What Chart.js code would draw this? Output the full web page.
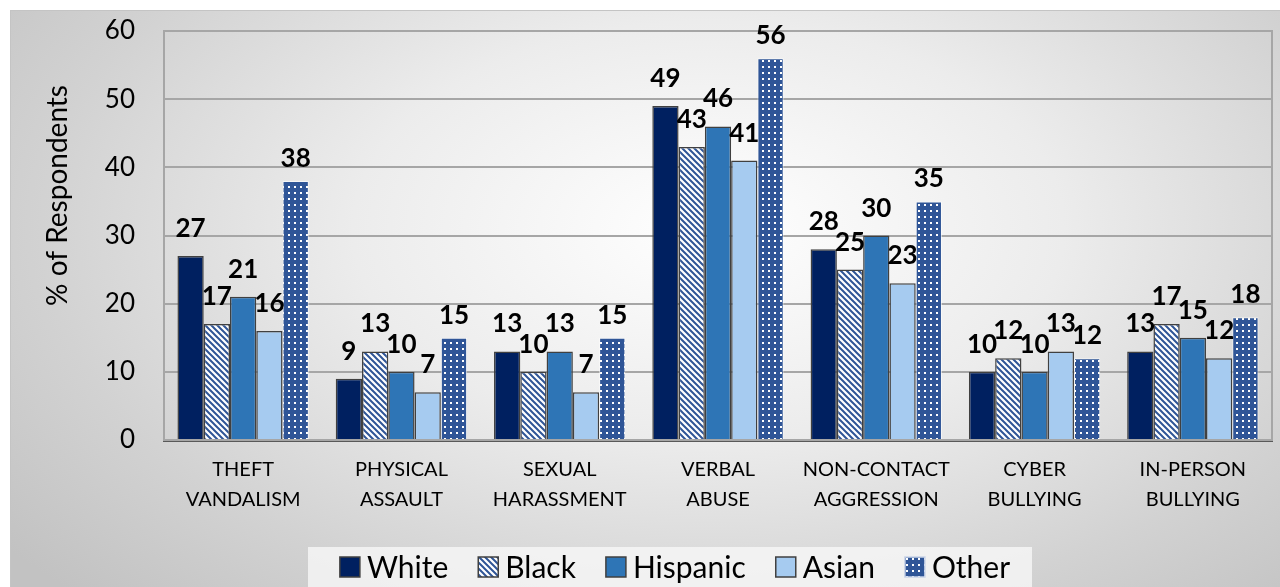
<!DOCTYPE html>
<html>
<head>
<meta charset="utf-8">
<script src="https://cdn.jsdelivr.net/npm/chart.js@4/dist/chart.umd.min.js"></script>
<style>
  html, body { margin: 0; padding: 0; background: #fff; }
  #wrap {
    position: absolute; left: 10px; top: 10px; width: 1270px; height: 577px;
    background: radial-gradient(ellipse 70% 90% at 55% 38%, #ffffff 0%, #ececec 40%, #d2d2d2 75%, #c2c2c2 100%);
    box-shadow: inset 1px 1px 0 #c4c4c4;
  }
  canvas { display: block; }
</style>
</head>
<body>
<div id="wrap"><canvas id="crimeChart" width="1270" height="577"></canvas></div>
<script>
const categories = [
  ['THEFT', 'VANDALISM'],
  ['PHYSICAL', 'ASSAULT'],
  ['SEXUAL', 'HARASSMENT'],
  ['VERBAL', 'ABUSE'],
  ['NON-CONTACT', 'AGGRESSION'],
  ['CYBER', 'BULLYING'],
  ['IN-PERSON', 'BULLYING']
];
const seriesNames = ['White', 'Black', 'Hispanic', 'Asian', 'Other'];
const white    = [27, 9, 13, 49, 28, 10, 13];
const black    = [17, 13, 10, 43, 25, 12, 17];
const hispanic = [21, 10, 13, 46, 30, 10, 15];
const asian    = [16, 7, 7, 41, 23, 13, 12];
const other    = [38, 15, 15, 56, 35, 12, 18];
const yTicks   = [0, 10, 20, 30, 40, 50, 60];

const ctx = document.getElementById('crimeChart').getContext('2d');

// fill patterns like the office chart
function hatchPattern() {
  const c = document.createElement('canvas');
  c.width = 6; c.height = 6;
  const g = c.getContext('2d');
  g.fillStyle = '#ffffff';
  g.fillRect(0, 0, 6, 6);
  g.strokeStyle = '#2f5597';
  g.lineWidth = 2;
  g.beginPath();
  g.moveTo(-1, -1); g.lineTo(7, 7);
  g.moveTo(-4, 2); g.lineTo(4, 10);
  g.moveTo(2, -4); g.lineTo(10, 4);
  g.stroke();
  return ctx.createPattern(c, 'repeat');
}
function dotPattern() {
  const c = document.createElement('canvas');
  c.width = 6; c.height = 6;
  const g = c.getContext('2d');
  g.fillStyle = '#2f5597';
  g.fillRect(0, 0, 6, 6);
  g.fillStyle = '#ffffff';
  g.fillRect(2, 2, 2, 2);
  return ctx.createPattern(c, 'repeat');
}

Chart.defaults.font.family = 'Lato';
Chart.defaults.color = '#000';

// frame around the plot area
const plotFrame = {
  id: 'plotFrame',
  beforeDatasetsDraw(chart) {
    const a = chart.chartArea, c = chart.ctx;
    c.save();
    c.strokeStyle = '#a6a6a6';
    c.lineWidth = 2;
    c.strokeRect(a.left, a.top, a.right - a.left, a.bottom - a.top);
    c.restore();
  }
};

// the axis title sits a bit above the middle in the original
const titleShift = {
  id: 'titleShift',
  afterLayout(chart) {
    const s = chart.scales.y;
    if (s._shifted) return;
    const orig = s.drawTitle.bind(s);
    s.drawTitle = function () {
      this.ctx.save();
      this.ctx.translate(0, -40);
      orig();
      this.ctx.restore();
    };
    s._shifted = true;
  }
};

// value labels above bars
const barLabels = {
  id: 'barLabels',
  afterDatasetsDraw(chart) {
    const c = chart.ctx;
    c.save();
    c.font = 'bold 26px Lato';
    c.fillStyle = '#000';
    c.textAlign = 'center';
    c.textBaseline = 'alphabetic';
    chart.data.datasets.forEach((ds, i) => {
      const meta = chart.getDatasetMeta(i);
      const off = i === 4 ? 14 : 19;
      meta.data.forEach((bar, j) => {
        c.fillText(String(ds.data[j]), bar.x, bar.y - off);
      });
    });
    c.restore();
  }
};

// legend drawn as in the original (boxed, wide spacing)
const boxLegend = {
  id: 'boxLegend',
  afterDraw(chart) {
    const c = chart.ctx;
    c.save();
    c.font = '30px Lato';
    const boxSize = 20, gapText = 7, gapItem = 30;
    const items = chart.data.datasets.map(ds => ({
      text: ds.label, fill: ds.backgroundColor, border: ds.legendBorder,
      w: c.measureText(ds.label).width
    }));
    let total = 0;
    items.forEach((it, i) => { total += boxSize + gapText + it.w + (i < items.length - 1 ? gapItem : 0); });
    const cx = 665, cy = 557;
    c.fillStyle = 'rgba(250,250,250,0.75)';
    c.fillRect(298, 537, 724, 45);
    let x = cx - total / 2;
    c.textBaseline = 'middle';
    c.textAlign = 'left';
    items.forEach(it => {
      c.fillStyle = it.fill;
      c.fillRect(x, cy - boxSize / 2, boxSize, boxSize);
      c.strokeStyle = it.border;
      c.lineWidth = 1.5;
      c.strokeRect(x, cy - boxSize / 2, boxSize, boxSize);
      c.fillStyle = '#000';
      c.fillText(it.text, x + boxSize + gapText, cy + 1);
      x += boxSize + gapText + it.w + gapItem;
    });
    c.restore();
  }
};

const barBorder = '#404040';
new Chart(ctx, {
  type: 'bar',
  data: {
    labels: categories,
    datasets: [
      { label: seriesNames[0], data: white, backgroundColor: '#002060', borderColor: barBorder, borderWidth: 1.5, legendBorder: barBorder },
      { label: seriesNames[1], data: black, backgroundColor: hatchPattern(), borderColor: barBorder, borderWidth: 1.5, legendBorder: barBorder },
      { label: seriesNames[2], data: hispanic, backgroundColor: '#2e75b6', borderColor: barBorder, borderWidth: 1.5, legendBorder: barBorder },
      { label: seriesNames[3], data: asian, backgroundColor: '#a6cbf0', borderColor: barBorder, borderWidth: 1.5, legendBorder: barBorder },
      { label: seriesNames[4], data: other, backgroundColor: dotPattern(), borderColor: 'rgba(255,255,255,0.6)', borderWidth: 1, legendBorder: '#c9d3e8' }
    ]
  },
  options: {
    responsive: false,
    animation: false,
    devicePixelRatio: 1,
    layout: { padding: { top: 21, right: 8, bottom: 42, left: 0 } },
    datasets: { bar: { categoryPercentage: 0.83, barPercentage: 1.0 } },
    plugins: {
      legend: { display: false },
      tooltip: { enabled: false }
    },
    scales: {
      x: {
        grid: { display: false, drawTicks: false },
        border: { display: true, color: '#595959', width: 3 },
        ticks: {
          font: { size: 20, lineHeight: 30 / 20 },
          padding: 15,
          maxRotation: 0,
          autoSkip: false
        },
        afterFit(scale) { scale.height = 105; }
      },
      y: {
        min: 0,
        max: 60,
        afterBuildTicks(scale) { scale.ticks = yTicks.map(v => ({ value: v })); },
        grid: { color: '#a6a6a6', lineWidth: 2, drawTicks: false },
        border: { display: true, color: '#a6a6a6', width: 2 },
        ticks: { font: { size: 26 }, padding: 29 },
        title: {
          display: true,
          text: '% of Respondents',
          font: { size: 28 },
          padding: { top: 31, bottom: 0 }
        },
        afterFit(scale) { scale.width = 154; scale.paddingTop = 0; }
      }
    }
  },
  plugins: [plotFrame, titleShift, barLabels, boxLegend]
});
</script>
</body>
</html>
